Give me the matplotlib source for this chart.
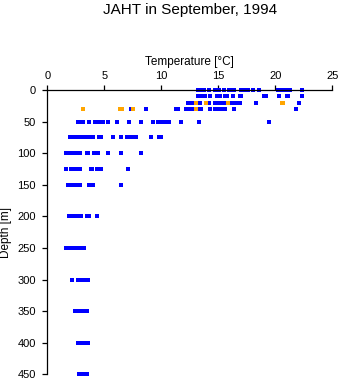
import matplotlib
matplotlib.use("Agg")
import matplotlib.pyplot as plt

plt.rcParams['font.family'] = ['Liberation Sans', 'DejaVu Sans']

# CTD casts, temperature readings grouped by sampling depth [m]
depths = [0, 10, 20, 30, 50, 75, 100, 125, 150, 200, 250, 300, 350, 400, 450]

t_0 = [13.2, 13.4, 13.6, 13.75, 14.2, 14.68, 15.1, 15.48, 15.9, 16.1, 16.25, 16.4,
       17.0, 17.2, 17.4, 17.6, 18.07, 18.58, 20.23, 20.6, 20.85, 21.1, 21.3, 22.38]
t_10 = [13.2, 13.45, 13.7, 13.85, 14.24, 14.85, 15.15, 15.55, 15.8, 16.29,
        16.9, 17.0, 19.0, 19.2, 20.29, 21.0, 21.1, 22.38]
t_20 = [12.3, 12.45, 12.82, 13.37, 14.2, 14.7, 14.95, 15.2, 15.6, 15.85, 16.05,
        16.3, 16.65, 16.9, 18.3, 22.1]
t_30 = [7.35, 8.7, 11.25, 11.5, 12.2, 12.4, 12.75, 13.3, 13.45, 14.3, 14.75,
        14.95, 15.3, 15.55, 16.35, 21.85]
t_50 = [2.65, 2.85, 3.1, 3.7, 4.15, 4.4, 4.65, 4.85, 5.3, 6.1, 7.2, 8.2, 9.25,
        9.7, 10.0, 10.35, 10.7, 11.75, 13.3, 19.45]
t_75 = [2.0, 2.2, 2.4, 2.7, 2.95, 3.2, 3.45, 3.7, 4.03, 4.5, 4.7, 5.79, 6.49,
        6.95, 7.2, 7.4, 7.8, 9.12, 9.8, 9.95]
t_100 = [1.6, 1.85, 2.1, 2.35, 2.6, 2.85, 3.5, 3.6, 4.12, 4.47, 5.3, 6.45, 8.2]
t_125 = [1.67, 2.05, 2.35, 2.6, 2.85, 3.8, 3.95, 4.37, 4.7, 7.1]
t_150 = [1.8, 2.05, 2.3, 2.5, 2.9, 3.7, 4.03, 6.49]
t_200 = [1.9, 2.15, 2.4, 2.65, 2.95, 3.5, 3.62, 4.38]
t_250 = [1.65, 1.8, 2.1, 2.35, 2.6, 2.85, 3.1, 3.25]
t_300 = [2.2, 2.65, 2.9, 3.15, 3.4, 3.6]
t_350 = [2.4, 2.6, 2.85, 3.1, 3.35, 3.45]
t_400 = [2.65, 2.9, 3.15, 3.4, 3.6]
t_450 = [2.75, 3.0, 3.25, 3.5]

temps = [t_0, t_10, t_20, t_30, t_50, t_75, t_100, t_125, t_150,
         t_200, t_250, t_300, t_350, t_400, t_450]

# second instrument, only near the surface
orange_depths = [20, 30]
orange_20 = [13.08, 13.9, 15.85, 20.55, 20.7]
orange_30 = [3.1, 6.4, 6.55, 7.55, 13.05]
orange_temps = [orange_20, orange_30]

W, H = 341, 384
fig = plt.figure(figsize=(W / 100, H / 100), dpi=100)
ax = fig.add_axes([47.3 / W, 1 - 374.3 / H, 285 / W, (374.3 - 90) / H])

for d, ts in zip(depths, temps):
    ax.plot(ts, [d] * len(ts), linestyle='none', marker='s', markersize=2.4,
            markeredgewidth=0, color='#0000ff', clip_on=False)
for d, ts in zip(orange_depths, orange_temps):
    ax.plot(ts, [d] * len(ts), linestyle='none', marker='s', markersize=2.4,
            markeredgewidth=0, color='#ffa500', clip_on=False)

ax.set_xlim(0, 25)
ax.set_ylim(450, 0)
ax.set_xticks([0, 5, 10, 15, 20, 25])
ax.set_yticks(range(0, 451, 50))

ax.xaxis.tick_top()
ax.xaxis.set_label_position('top')
ax.set_xlabel('Temperature [°C]', fontsize=8.5, labelpad=4)

for side in ['right', 'bottom']:
    ax.spines[side].set_visible(False)
for side in ['left', 'top']:
    ax.spines[side].set_linewidth(0.9)

ax.tick_params(axis='x', direction='out', length=3.6, width=0.9, pad=3.2, labelsize=8)
ax.tick_params(axis='y', direction='out', length=3.6, width=0.9, pad=4.6, labelsize=8)

fig.text(6 / W, 1 - 232 / H, 'Depth [m]', rotation=90, fontsize=8.5,
         ha='center', va='center')
fig.text(190 / W, 1 - 3 / H, 'JAHT in September, 1994', fontsize=11,
         ha='center', va='top')

fig.savefig('out.png', dpi=100)
